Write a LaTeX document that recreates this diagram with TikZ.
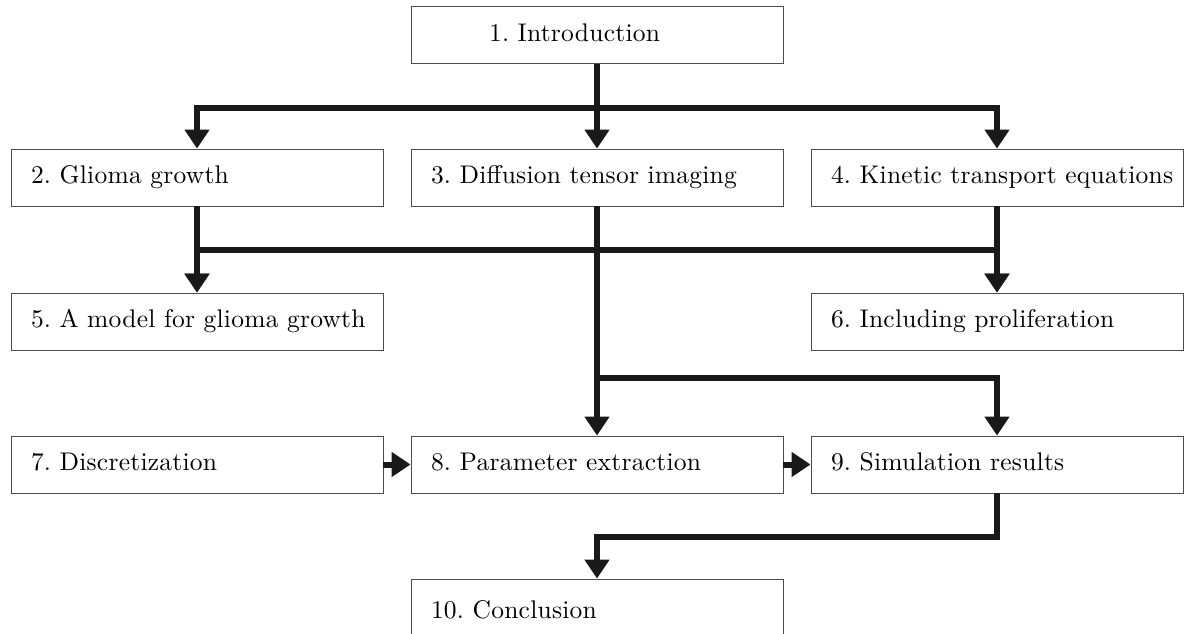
\documentclass[tikz,border=0pt]{standalone}
\usepackage{fontspec}
\setmainfont{lmroman10-regular.otf}
\usepackage{tikz}
\usetikzlibrary{arrows.meta, positioning}
\definecolor{linegray}{rgb}{0.1,0.1,0.1}
\definecolor{framegray}{rgb}{0.3,0.3,0.3}
\frenchspacing

\begin{document}
\begin{tikzpicture}[x=1pt, y=-1pt,
    box/.style={rectangle, draw=framegray, line width=0.9pt, minimum width=372pt, minimum height=57pt, text width=332pt, inner xsep=20pt, align=left, text height=17.5pt, text depth=5pt, font=\fontsize{25.5}{30}\selectfont\addfontfeature{LetterSpace=1}},
    arrow/.style={-{Triangle[width=24pt,length=19pt]}, line width=6pt, draw=linegray}
]
\useasboundingbox (0,0) rectangle (1186,634);
\clip (0,0) rectangle (1186,634);

\node[box] (intro) at (597,35) {\hspace*{58pt}\mbox{1. Introduction}};
\node[box] (glioma) at (197,177.5) {\mbox{2. Glioma growth}};
\node[box] (dti) at (597,177.5) {\mbox{3. Diffusion tensor imaging}};
\node[box] (kinetic) at (997,177.5) {\mbox{4. Kinetic transport equations}};
\node[box] (model) at (197,321.5) {\mbox{5. A model for glioma growth}};
\node[box] (prolif) at (997,321.5) {\mbox{6. Including proliferation}};
\node[box] (discr) at (197,464.5) {\mbox{7. Discretization}};
\node[box] (param) at (597,464.5) {\mbox{8. Parameter extraction}};
\node[box] (simul) at (997,464.5) {\mbox{9. Simulation results}};
\node[box, minimum height=66pt] (concl) at (597,612) {\mbox{10. Conclusion}};

\draw[arrow] (intro) -- (dti);
\draw[arrow] (intro.south) -- ++(0,44) -| (glioma.north);
\draw[arrow] (intro.south) -- ++(0,44) -| (kinetic.north);

\draw[arrow] (glioma) -- (model);
\draw[arrow] (kinetic) -- (prolif);
\draw[arrow] (glioma.south) -- ++(0,44) -| (prolif.north);
\draw[arrow] (kinetic.south) -- ++(0,44) -| (model.north);

\draw[arrow] (dti) -- (param);
\draw[arrow] (dti.south) -- ++(0,172) -| (simul.north);

\draw[arrow] (discr) -- (param);
\draw[arrow] (param) -- (simul);
\draw[arrow] (simul.south) -- ++(0,44) -| (concl.north);
\end{tikzpicture}
\end{document}
